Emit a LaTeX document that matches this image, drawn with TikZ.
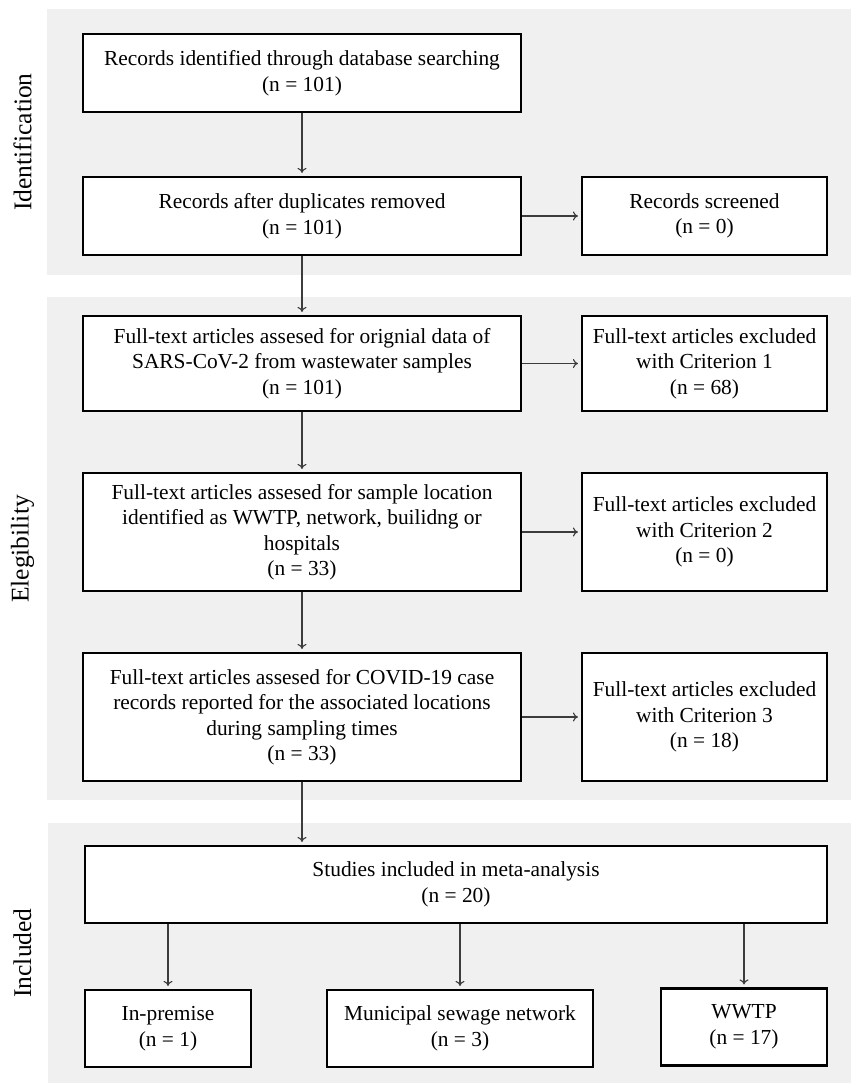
\documentclass[tikz,border=0pt]{standalone}
\usepackage{fontspec}
\setmainfont{Liberation Serif}
\usetikzlibrary{arrows.meta}
\definecolor{panelgray}{RGB}{240,240,240}
\definecolor{arrowgray}{RGB}{60,60,60}
\begin{document}
\begin{tikzpicture}[x=1pt,y=1pt,
  stagebox/.style={draw=black, line width=2.2pt, fill=white, align=center,
    inner sep=0pt, font=\fontsize{21.4pt}{25.5pt}\selectfont},
  arr/.style={draw=arrowgray, line width=1.1pt, -{To[length=5pt,width=9pt]}, shorten >=3pt},
  sidelabel/.style={rotate=90, font=\fontsize{25.5pt}{28pt}\selectfont, inner sep=0pt},
  panel/.style={fill=panelgray, draw=none}]
\useasboundingbox (0,0) rectangle (851,-1083);
\fill[white] (0,0) rectangle (851,-1083);
% panels
\path[panel] (47,-9) rectangle (851,-275);
\path[panel] (47,-297) rectangle (851,-800);
\path[panel] (48,-823) rectangle (851,-1083);
% side labels
\node[sidelabel] (lid) at (22.5,-142) {Identification};
\node[sidelabel] (lel) at (22.5,-549) {Elegibility};
\node[sidelabel] (lin) at (22.5,-953) {Included};
% boxes
\node[stagebox, minimum width=438pt, minimum height=78pt] (b1) at (302,-73)
  {Records identified through database searching\\(n = 101)};
\node[stagebox, minimum width=438pt, minimum height=78pt] (b2) at (302,-216)
  {Records after duplicates removed\\(n = 101)};
\node[stagebox, minimum width=245pt, minimum height=78pt] (scr) at (704.5,-216)
  {Records screened\\(n = 0)};
\node[stagebox, minimum width=438pt, minimum height=95pt] (e1) at (302,-363.5)
  {Full-text articles assesed for orignial data of\\SARS-CoV-2 from wastewater samples\\(n = 101)};
\node[stagebox, minimum width=245pt, minimum height=95pt] (x1) at (704.5,-363.5)
  {Full-text articles excluded\\with Criterion 1\\(n = 68)};
\node[stagebox, minimum width=438pt, minimum height=118pt] (e2) at (302,-532)
  {Full-text articles assesed for sample location\\identified as WWTP, network, builidng or\\hospitals\\(n = 33)};
\node[stagebox, minimum width=245pt, minimum height=118pt] (x2) at (704.5,-532)
  {Full-text articles excluded\\with Criterion 2\\(n = 0)};
\node[stagebox, minimum width=438pt, minimum height=128pt] (e3) at (302,-717)
  {Full-text articles assesed for COVID-19 case\\records reported for the associated locations\\during sampling times\\(n = 33)};
\node[stagebox, minimum width=245pt, minimum height=128pt] (x3) at (704.5,-717)
  {Full-text articles excluded\\with Criterion 3\\(n = 18)};
\node[stagebox, minimum width=742pt, minimum height=77pt] (st) at (456,-884.5)
  {Studies included in meta-analysis\\(n = 20)};
\node[stagebox, minimum width=166pt, minimum height=77pt] (ip) at (168,-1028.5)
  {In-premise\\(n = 1)};
\node[stagebox, minimum width=266pt, minimum height=77pt] (mu) at (460,-1028.5)
  {Municipal sewage network\\(n = 3)};
\node[stagebox, minimum width=166pt, minimum height=77pt] (ww) at (744,-1027)
  {WWTP\\(n = 17)};
% connectors
\draw[arr] (b1.south) -- (b2.north);
\draw[arr] (b2.east) -- (scr.west);
\draw[arr] (b2.south) -- (e1.north);
\draw[arr] (e1.east) -- (x1.west);
\draw[arr] (e1.south) -- (e2.north);
\draw[arr] (e2.east) -- (x2.west);
\draw[arr] (e2.south) -- (e3.north);
\draw[arr] (e3.east) -- (x3.west);
\draw[arr] (e3.south) -- (e3.south |- st.north);
\draw[arr] (st.south -| ip.north) -- (ip.north);
\draw[arr] (st.south -| mu.north) -- (mu.north);
\draw[arr] (st.south -| ww.north) -- (ww.north);
\end{tikzpicture}
\end{document}
